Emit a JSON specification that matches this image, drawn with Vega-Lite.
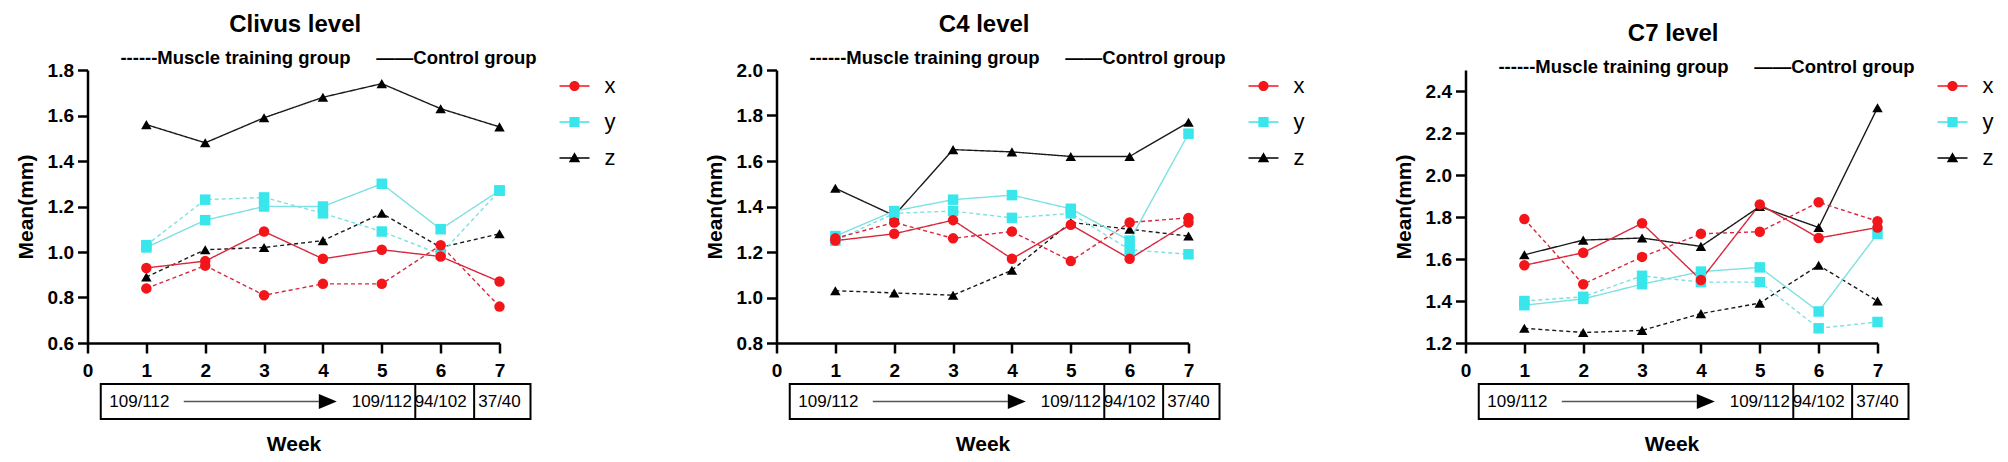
{
  "$schema": "https://vega.github.io/schema/vega-lite/v6.json",
  "background": "white",
  "padding": {"left": 14.5, "top": 12, "right": 0, "bottom": 0},
  "config": {
    "font": "Liberation Sans",
    "view": {"stroke": null},
    "axis": {
      "grid": false,
      "domainColor": "#000", "domainWidth": 2.5,
      "tickColor": "#000", "tickWidth": 2.5, "tickSize": 10,
      "labelColor": "#000", "labelFontWeight": "bold", "labelFontSize": 19, "labelFlush": false,
      "titleColor": "#000", "titleFontWeight": "bold", "titleFontSize": 21
    },
    "axisX": {"labelPadding": 8},
    "axisY": {"labelPadding": 4, "titlePadding": 11},
    "title": {
      "fontSize": 24, "fontWeight": "bold", "color": "#000",
      "subtitleFontSize": 18.5, "subtitleFontWeight": "bold", "subtitleColor": "#000",
      "subtitlePadding": 12, "offset": -6, "frame": "group", "anchor": "middle", "dx": 35
    },
    "legend": {
      "labelFontSize": 22, "labelColor": "#000", "symbolSize": 144, "symbolOpacity": 1,
      "labelOffset": 19, "rowPadding": 14, "offset": 56, "padding": 5, "symbolStrokeWidth": 0
    }
  },
  "datasets": {
    "means": [
      {"level": "clivus", "group": "training", "measure": "z", "week": 1, "mean": 0.89},
      {"level": "clivus", "group": "training", "measure": "z", "week": 2, "mean": 1.01},
      {"level": "clivus", "group": "training", "measure": "z", "week": 3, "mean": 1.02},
      {"level": "clivus", "group": "training", "measure": "z", "week": 4, "mean": 1.05},
      {"level": "clivus", "group": "training", "measure": "z", "week": 5, "mean": 1.17},
      {"level": "clivus", "group": "training", "measure": "z", "week": 6, "mean": 1.02},
      {"level": "clivus", "group": "training", "measure": "z", "week": 7, "mean": 1.08},
      {"level": "clivus", "group": "control", "measure": "z", "week": 1, "mean": 1.56},
      {"level": "clivus", "group": "control", "measure": "z", "week": 2, "mean": 1.48},
      {"level": "clivus", "group": "control", "measure": "z", "week": 3, "mean": 1.59},
      {"level": "clivus", "group": "control", "measure": "z", "week": 4, "mean": 1.68},
      {"level": "clivus", "group": "control", "measure": "z", "week": 5, "mean": 1.74},
      {"level": "clivus", "group": "control", "measure": "z", "week": 6, "mean": 1.63},
      {"level": "clivus", "group": "control", "measure": "z", "week": 7, "mean": 1.55},
      {"level": "clivus", "group": "training", "measure": "y", "week": 1, "mean": 1.03},
      {"level": "clivus", "group": "training", "measure": "y", "week": 2, "mean": 1.23},
      {"level": "clivus", "group": "training", "measure": "y", "week": 3, "mean": 1.24},
      {"level": "clivus", "group": "training", "measure": "y", "week": 4, "mean": 1.17},
      {"level": "clivus", "group": "training", "measure": "y", "week": 5, "mean": 1.09},
      {"level": "clivus", "group": "training", "measure": "y", "week": 6, "mean": 0.99},
      {"level": "clivus", "group": "training", "measure": "y", "week": 7, "mean": 1.27},
      {"level": "clivus", "group": "control", "measure": "y", "week": 1, "mean": 1.02},
      {"level": "clivus", "group": "control", "measure": "y", "week": 2, "mean": 1.14},
      {"level": "clivus", "group": "control", "measure": "y", "week": 3, "mean": 1.20},
      {"level": "clivus", "group": "control", "measure": "y", "week": 4, "mean": 1.20},
      {"level": "clivus", "group": "control", "measure": "y", "week": 5, "mean": 1.30},
      {"level": "clivus", "group": "control", "measure": "y", "week": 6, "mean": 1.10},
      {"level": "clivus", "group": "control", "measure": "y", "week": 7, "mean": 1.27},
      {"level": "clivus", "group": "training", "measure": "x", "week": 1, "mean": 0.84},
      {"level": "clivus", "group": "training", "measure": "x", "week": 2, "mean": 0.94},
      {"level": "clivus", "group": "training", "measure": "x", "week": 3, "mean": 0.81},
      {"level": "clivus", "group": "training", "measure": "x", "week": 4, "mean": 0.86},
      {"level": "clivus", "group": "training", "measure": "x", "week": 5, "mean": 0.86},
      {"level": "clivus", "group": "training", "measure": "x", "week": 6, "mean": 1.03},
      {"level": "clivus", "group": "training", "measure": "x", "week": 7, "mean": 0.76},
      {"level": "clivus", "group": "control", "measure": "x", "week": 1, "mean": 0.93},
      {"level": "clivus", "group": "control", "measure": "x", "week": 2, "mean": 0.96},
      {"level": "clivus", "group": "control", "measure": "x", "week": 3, "mean": 1.09},
      {"level": "clivus", "group": "control", "measure": "x", "week": 4, "mean": 0.97},
      {"level": "clivus", "group": "control", "measure": "x", "week": 5, "mean": 1.01},
      {"level": "clivus", "group": "control", "measure": "x", "week": 6, "mean": 0.98},
      {"level": "clivus", "group": "control", "measure": "x", "week": 7, "mean": 0.87},

      {"level": "c4", "group": "training", "measure": "z", "week": 1, "mean": 1.03},
      {"level": "c4", "group": "training", "measure": "z", "week": 2, "mean": 1.02},
      {"level": "c4", "group": "training", "measure": "z", "week": 3, "mean": 1.01},
      {"level": "c4", "group": "training", "measure": "z", "week": 4, "mean": 1.12},
      {"level": "c4", "group": "training", "measure": "z", "week": 5, "mean": 1.33},
      {"level": "c4", "group": "training", "measure": "z", "week": 6, "mean": 1.30},
      {"level": "c4", "group": "training", "measure": "z", "week": 7, "mean": 1.27},
      {"level": "c4", "group": "control", "measure": "z", "week": 1, "mean": 1.48},
      {"level": "c4", "group": "control", "measure": "z", "week": 2, "mean": 1.36},
      {"level": "c4", "group": "control", "measure": "z", "week": 3, "mean": 1.65},
      {"level": "c4", "group": "control", "measure": "z", "week": 4, "mean": 1.64},
      {"level": "c4", "group": "control", "measure": "z", "week": 5, "mean": 1.62},
      {"level": "c4", "group": "control", "measure": "z", "week": 6, "mean": 1.62},
      {"level": "c4", "group": "control", "measure": "z", "week": 7, "mean": 1.77},
      {"level": "c4", "group": "training", "measure": "y", "week": 1, "mean": 1.25},
      {"level": "c4", "group": "training", "measure": "y", "week": 2, "mean": 1.37},
      {"level": "c4", "group": "training", "measure": "y", "week": 3, "mean": 1.38},
      {"level": "c4", "group": "training", "measure": "y", "week": 4, "mean": 1.35},
      {"level": "c4", "group": "training", "measure": "y", "week": 5, "mean": 1.37},
      {"level": "c4", "group": "training", "measure": "y", "week": 6, "mean": 1.21},
      {"level": "c4", "group": "training", "measure": "y", "week": 7, "mean": 1.19},
      {"level": "c4", "group": "control", "measure": "y", "week": 1, "mean": 1.27},
      {"level": "c4", "group": "control", "measure": "y", "week": 2, "mean": 1.38},
      {"level": "c4", "group": "control", "measure": "y", "week": 3, "mean": 1.43},
      {"level": "c4", "group": "control", "measure": "y", "week": 4, "mean": 1.45},
      {"level": "c4", "group": "control", "measure": "y", "week": 5, "mean": 1.39},
      {"level": "c4", "group": "control", "measure": "y", "week": 6, "mean": 1.25},
      {"level": "c4", "group": "control", "measure": "y", "week": 7, "mean": 1.72},
      {"level": "c4", "group": "training", "measure": "x", "week": 1, "mean": 1.26},
      {"level": "c4", "group": "training", "measure": "x", "week": 2, "mean": 1.33},
      {"level": "c4", "group": "training", "measure": "x", "week": 3, "mean": 1.26},
      {"level": "c4", "group": "training", "measure": "x", "week": 4, "mean": 1.29},
      {"level": "c4", "group": "training", "measure": "x", "week": 5, "mean": 1.16},
      {"level": "c4", "group": "training", "measure": "x", "week": 6, "mean": 1.33},
      {"level": "c4", "group": "training", "measure": "x", "week": 7, "mean": 1.35},
      {"level": "c4", "group": "control", "measure": "x", "week": 1, "mean": 1.25},
      {"level": "c4", "group": "control", "measure": "x", "week": 2, "mean": 1.28},
      {"level": "c4", "group": "control", "measure": "x", "week": 3, "mean": 1.34},
      {"level": "c4", "group": "control", "measure": "x", "week": 4, "mean": 1.17},
      {"level": "c4", "group": "control", "measure": "x", "week": 5, "mean": 1.32},
      {"level": "c4", "group": "control", "measure": "x", "week": 6, "mean": 1.17},
      {"level": "c4", "group": "control", "measure": "x", "week": 7, "mean": 1.33},

      {"level": "c7", "group": "training", "measure": "z", "week": 1, "mean": 1.27},
      {"level": "c7", "group": "training", "measure": "z", "week": 2, "mean": 1.25},
      {"level": "c7", "group": "training", "measure": "z", "week": 3, "mean": 1.26},
      {"level": "c7", "group": "training", "measure": "z", "week": 4, "mean": 1.34},
      {"level": "c7", "group": "training", "measure": "z", "week": 5, "mean": 1.39},
      {"level": "c7", "group": "training", "measure": "z", "week": 6, "mean": 1.57},
      {"level": "c7", "group": "training", "measure": "z", "week": 7, "mean": 1.40},
      {"level": "c7", "group": "control", "measure": "z", "week": 1, "mean": 1.62},
      {"level": "c7", "group": "control", "measure": "z", "week": 2, "mean": 1.69},
      {"level": "c7", "group": "control", "measure": "z", "week": 3, "mean": 1.70},
      {"level": "c7", "group": "control", "measure": "z", "week": 4, "mean": 1.66},
      {"level": "c7", "group": "control", "measure": "z", "week": 5, "mean": 1.85},
      {"level": "c7", "group": "control", "measure": "z", "week": 6, "mean": 1.75},
      {"level": "c7", "group": "control", "measure": "z", "week": 7, "mean": 2.32},
      {"level": "c7", "group": "training", "measure": "y", "week": 1, "mean": 1.40},
      {"level": "c7", "group": "training", "measure": "y", "week": 2, "mean": 1.42},
      {"level": "c7", "group": "training", "measure": "y", "week": 3, "mean": 1.52},
      {"level": "c7", "group": "training", "measure": "y", "week": 4, "mean": 1.49},
      {"level": "c7", "group": "training", "measure": "y", "week": 5, "mean": 1.49},
      {"level": "c7", "group": "training", "measure": "y", "week": 6, "mean": 1.27},
      {"level": "c7", "group": "training", "measure": "y", "week": 7, "mean": 1.30},
      {"level": "c7", "group": "control", "measure": "y", "week": 1, "mean": 1.38},
      {"level": "c7", "group": "control", "measure": "y", "week": 2, "mean": 1.41},
      {"level": "c7", "group": "control", "measure": "y", "week": 3, "mean": 1.48},
      {"level": "c7", "group": "control", "measure": "y", "week": 4, "mean": 1.54},
      {"level": "c7", "group": "control", "measure": "y", "week": 5, "mean": 1.56},
      {"level": "c7", "group": "control", "measure": "y", "week": 6, "mean": 1.35},
      {"level": "c7", "group": "control", "measure": "y", "week": 7, "mean": 1.72},
      {"level": "c7", "group": "training", "measure": "x", "week": 1, "mean": 1.79},
      {"level": "c7", "group": "training", "measure": "x", "week": 2, "mean": 1.48},
      {"level": "c7", "group": "training", "measure": "x", "week": 3, "mean": 1.61},
      {"level": "c7", "group": "training", "measure": "x", "week": 4, "mean": 1.72},
      {"level": "c7", "group": "training", "measure": "x", "week": 5, "mean": 1.73},
      {"level": "c7", "group": "training", "measure": "x", "week": 6, "mean": 1.87},
      {"level": "c7", "group": "training", "measure": "x", "week": 7, "mean": 1.78},
      {"level": "c7", "group": "control", "measure": "x", "week": 1, "mean": 1.57},
      {"level": "c7", "group": "control", "measure": "x", "week": 2, "mean": 1.63},
      {"level": "c7", "group": "control", "measure": "x", "week": 3, "mean": 1.77},
      {"level": "c7", "group": "control", "measure": "x", "week": 4, "mean": 1.50},
      {"level": "c7", "group": "control", "measure": "x", "week": 5, "mean": 1.86},
      {"level": "c7", "group": "control", "measure": "x", "week": 6, "mean": 1.70},
      {"level": "c7", "group": "control", "measure": "x", "week": 7, "mean": 1.75}
    ],
    "counts": [
      {"start": 1, "end": 5, "n": "109/112"},
      {"start": 6, "end": 6, "n": "94/102"},
      {"start": 7, "end": 7, "n": "37/40"}
    ]
  },
  "hconcat": [
    {
      "vconcat": [
        {
          "width": 412, "height": 273,
          "title": {"text": "Clivus level\u00a0\u00a0\u00a0\u00a0\u00a0\u00a0\u00a0\u00a0\u00a0\u00a0\u200b", "subtitle": "------Muscle training group\u00a0\u00a0\u00a0\u00a0\u00a0——Control group"},
          "data": {"name": "means"},
          "transform": [{"filter": "datum.level === 'clivus'"}],
          "encoding": {
            "x": {"field": "week", "type": "quantitative", "scale": {"domain": [0, 7], "nice": false, "zero": false}, "axis": {"values": [0, 1, 2, 3, 4, 5, 6, 7], "format": "d", "title": null}},
            "y": {"field": "mean", "type": "quantitative", "scale": {"domain": [0.6, 1.8], "nice": false, "zero": false}, "axis": {"values": [0.6, 0.8, 1.0, 1.2, 1.4, 1.6, 1.8], "format": ".1f", "title": "Mean(mm)"}},
            "fill": {"field": "measure", "type": "nominal", "scale": {"domain": ["x", "y", "z"], "range": ["#f2161b", "#38e6ec", "#000000"]}, "legend": {"title": null}}
          },
          "layer": [
            {
              "mark": {"type": "line", "strokeWidth": 1.4},
              "encoding": {
                "fill": null,
                "stroke": {"field": "measure", "type": "nominal", "scale": {"domain": ["z", "y", "x"], "range": ["#1a1a1a", "#7fe0e2", "#d8283e"]}, "legend": null},
                "strokeDash": {"field": "group", "type": "nominal", "scale": {"domain": ["training", "control"], "range": [[4, 3], [1, 0]]}, "legend": null}
              }
            },
            {
              "mark": {"type": "point", "filled": true, "size": 110, "opacity": 0},
              "encoding": {
                "shape": {"field": "measure", "type": "nominal", "scale": {"domain": ["x", "y", "z"], "range": ["M-2.5,-0.12H2.5V0.12H-2.5Z M0.85,0A0.85,0.85,0,1,1,-0.85,0A0.85,0.85,0,1,1,0.85,0Z", "M-2.5,-0.12H2.5V0.12H-2.5Z M-0.85,-0.85H0.85V0.85H-0.85Z", "M-2.5,-0.12H2.5V0.12H-2.5Z M0,-0.95L0.95,0.7H-0.95Z"]}, "legend": {"title": null}}
              }
            },
            {"transform": [{"filter": "datum.measure === 'z'"}], "mark": {"type": "point", "shape": "triangle-up", "filled": true, "size": 110, "opacity": 1, "strokeWidth": 0}},
            {"transform": [{"filter": "datum.measure === 'y'"}], "mark": {"type": "point", "shape": "square", "filled": true, "size": 110, "opacity": 1, "strokeWidth": 0}},
            {"transform": [{"filter": "datum.measure === 'x'"}], "mark": {"type": "point", "shape": "circle", "filled": true, "size": 110, "opacity": 1, "strokeWidth": 0}}
          ]
        },
        {
          "width": 412, "height": 35,
          "data": {"name": "counts"},
          "layer": [
            {
              "transform": [{"aggregate": [{"op": "min", "field": "start", "as": "first"}, {"op": "max", "field": "end", "as": "last"}]}],
              "mark": {"type": "rect", "filled": false, "stroke": "#000", "strokeWidth": 2, "xOffset": -45.6, "x2Offset": 31},
              "encoding": {
                "x": {"field": "first", "type": "quantitative", "scale": {"domain": [0, 7], "nice": false, "zero": false}, "axis": {"title": "Week", "domain": false, "ticks": false, "labels": false, "titlePadding": 14}},
                "x2": {"field": "last"}
              }
            },
            {
              "transform": [{"filter": "datum.end < 7"}],
              "mark": {"type": "rule", "stroke": "#000", "strokeWidth": 2, "xOffset": 33.5},
              "encoding": {"x": {"field": "end", "type": "quantitative", "scale": {"domain": [0, 7], "nice": false, "zero": false}, "axis": {"title": "Week", "domain": false, "ticks": false, "labels": false, "titlePadding": 14}}}
            },
            {
              "mark": {"type": "text", "fontSize": 17, "color": "#000"},
              "encoding": {"x": {"field": "end", "type": "quantitative", "scale": {"domain": [0, 7], "nice": false, "zero": false}, "axis": {"title": "Week", "domain": false, "ticks": false, "labels": false, "titlePadding": 14}}, "text": {"field": "n"}}
            },
            {
              "transform": [{"filter": "datum.start < datum.end"}],
              "mark": {"type": "text", "fontSize": 17, "color": "#000", "dx": -7},
              "encoding": {"x": {"field": "start", "type": "quantitative", "scale": {"domain": [0, 7], "nice": false, "zero": false}, "axis": {"title": "Week", "domain": false, "ticks": false, "labels": false, "titlePadding": 14}}, "text": {"field": "n"}}
            },
            {
              "transform": [{"filter": "datum.start < datum.end"}],
              "mark": {"type": "rule", "stroke": "#555", "strokeWidth": 1.5, "xOffset": 37.4, "x2Offset": -63},
              "encoding": {"x": {"field": "start", "type": "quantitative", "scale": {"domain": [0, 7], "nice": false, "zero": false}, "axis": {"title": "Week", "domain": false, "ticks": false, "labels": false, "titlePadding": 14}}, "x2": {"field": "end"}}
            },
            {
              "transform": [{"filter": "datum.start < datum.end"}],
              "mark": {"type": "point", "shape": "M-1.2,-1L1.2,0L-1.2,1Z", "filled": true, "color": "#000", "opacity": 1, "size": 225, "xOffset": -54},
              "encoding": {"x": {"field": "end", "type": "quantitative", "scale": {"domain": [0, 7], "nice": false, "zero": false}, "axis": {"title": "Week", "domain": false, "ticks": false, "labels": false, "titlePadding": 14}}}
            }
          ]
        }
      ],
      "spacing": 3,
      "resolve": {"scale": {"fill": "independent", "stroke": "independent", "shape": "independent", "strokeDash": "independent"}}
    },
    {
      "vconcat": [
        {
          "width": 412, "height": 273,
          "title": {"text": "C4 level\u00a0\u00a0\u00a0\u00a0\u00a0\u00a0\u00a0\u00a0\u00a0\u00a0\u200b", "subtitle": "------Muscle training group\u00a0\u00a0\u00a0\u00a0\u00a0——Control group"},
          "data": {"name": "means"},
          "transform": [{"filter": "datum.level === 'c4'"}],
          "encoding": {
            "x": {"field": "week", "type": "quantitative", "scale": {"domain": [0, 7], "nice": false, "zero": false}, "axis": {"values": [0, 1, 2, 3, 4, 5, 6, 7], "format": "d", "title": null}},
            "y": {"field": "mean", "type": "quantitative", "scale": {"domain": [0.8, 2.0], "nice": false, "zero": false}, "axis": {"values": [0.8, 1.0, 1.2, 1.4, 1.6, 1.8, 2.0], "format": ".1f", "title": "Mean(mm)"}},
            "fill": {"field": "measure", "type": "nominal", "scale": {"domain": ["x", "y", "z"], "range": ["#f2161b", "#38e6ec", "#000000"]}, "legend": {"title": null}}
          },
          "layer": [
            {
              "mark": {"type": "line", "strokeWidth": 1.4},
              "encoding": {
                "fill": null,
                "stroke": {"field": "measure", "type": "nominal", "scale": {"domain": ["z", "y", "x"], "range": ["#1a1a1a", "#7fe0e2", "#d8283e"]}, "legend": null},
                "strokeDash": {"field": "group", "type": "nominal", "scale": {"domain": ["training", "control"], "range": [[4, 3], [1, 0]]}, "legend": null}
              }
            },
            {
              "mark": {"type": "point", "filled": true, "size": 110, "opacity": 0},
              "encoding": {
                "shape": {"field": "measure", "type": "nominal", "scale": {"domain": ["x", "y", "z"], "range": ["M-2.5,-0.12H2.5V0.12H-2.5Z M0.85,0A0.85,0.85,0,1,1,-0.85,0A0.85,0.85,0,1,1,0.85,0Z", "M-2.5,-0.12H2.5V0.12H-2.5Z M-0.85,-0.85H0.85V0.85H-0.85Z", "M-2.5,-0.12H2.5V0.12H-2.5Z M0,-0.95L0.95,0.7H-0.95Z"]}, "legend": {"title": null}}
              }
            },
            {"transform": [{"filter": "datum.measure === 'z'"}], "mark": {"type": "point", "shape": "triangle-up", "filled": true, "size": 110, "opacity": 1, "strokeWidth": 0}},
            {"transform": [{"filter": "datum.measure === 'y'"}], "mark": {"type": "point", "shape": "square", "filled": true, "size": 110, "opacity": 1, "strokeWidth": 0}},
            {"transform": [{"filter": "datum.measure === 'x'"}], "mark": {"type": "point", "shape": "circle", "filled": true, "size": 110, "opacity": 1, "strokeWidth": 0}}
          ]
        },
        {
          "width": 412, "height": 35,
          "data": {"name": "counts"},
          "layer": [
            {
              "transform": [{"aggregate": [{"op": "min", "field": "start", "as": "first"}, {"op": "max", "field": "end", "as": "last"}]}],
              "mark": {"type": "rect", "filled": false, "stroke": "#000", "strokeWidth": 2, "xOffset": -45.6, "x2Offset": 31},
              "encoding": {
                "x": {"field": "first", "type": "quantitative", "scale": {"domain": [0, 7], "nice": false, "zero": false}, "axis": {"title": "Week", "domain": false, "ticks": false, "labels": false, "titlePadding": 14}},
                "x2": {"field": "last"}
              }
            },
            {
              "transform": [{"filter": "datum.end < 7"}],
              "mark": {"type": "rule", "stroke": "#000", "strokeWidth": 2, "xOffset": 33.5},
              "encoding": {"x": {"field": "end", "type": "quantitative", "scale": {"domain": [0, 7], "nice": false, "zero": false}, "axis": {"title": "Week", "domain": false, "ticks": false, "labels": false, "titlePadding": 14}}}
            },
            {
              "mark": {"type": "text", "fontSize": 17, "color": "#000"},
              "encoding": {"x": {"field": "end", "type": "quantitative", "scale": {"domain": [0, 7], "nice": false, "zero": false}, "axis": {"title": "Week", "domain": false, "ticks": false, "labels": false, "titlePadding": 14}}, "text": {"field": "n"}}
            },
            {
              "transform": [{"filter": "datum.start < datum.end"}],
              "mark": {"type": "text", "fontSize": 17, "color": "#000", "dx": -7},
              "encoding": {"x": {"field": "start", "type": "quantitative", "scale": {"domain": [0, 7], "nice": false, "zero": false}, "axis": {"title": "Week", "domain": false, "ticks": false, "labels": false, "titlePadding": 14}}, "text": {"field": "n"}}
            },
            {
              "transform": [{"filter": "datum.start < datum.end"}],
              "mark": {"type": "rule", "stroke": "#555", "strokeWidth": 1.5, "xOffset": 37.4, "x2Offset": -63},
              "encoding": {"x": {"field": "start", "type": "quantitative", "scale": {"domain": [0, 7], "nice": false, "zero": false}, "axis": {"title": "Week", "domain": false, "ticks": false, "labels": false, "titlePadding": 14}}, "x2": {"field": "end"}}
            },
            {
              "transform": [{"filter": "datum.start < datum.end"}],
              "mark": {"type": "point", "shape": "M-1.2,-1L1.2,0L-1.2,1Z", "filled": true, "color": "#000", "opacity": 1, "size": 225, "xOffset": -54},
              "encoding": {"x": {"field": "end", "type": "quantitative", "scale": {"domain": [0, 7], "nice": false, "zero": false}, "axis": {"title": "Week", "domain": false, "ticks": false, "labels": false, "titlePadding": 14}}}
            }
          ]
        }
      ],
      "spacing": 3,
      "resolve": {"scale": {"fill": "independent", "stroke": "independent", "shape": "independent", "strokeDash": "independent"}}
    },
    {
      "vconcat": [
        {
          "width": 412, "height": 273,
          "title": {"text": "C7 level\u00a0\u00a0\u00a0\u00a0\u00a0\u00a0\u00a0\u00a0\u00a0\u00a0\u200b", "subtitle": "------Muscle training group\u00a0\u00a0\u00a0\u00a0\u00a0——Control group"},
          "data": {"name": "means"},
          "transform": [{"filter": "datum.level === 'c7'"}],
          "encoding": {
            "x": {"field": "week", "type": "quantitative", "scale": {"domain": [0, 7], "nice": false, "zero": false}, "axis": {"values": [0, 1, 2, 3, 4, 5, 6, 7], "format": "d", "title": null}},
            "y": {"field": "mean", "type": "quantitative", "scale": {"domain": [1.2, 2.5], "nice": false, "zero": false}, "axis": {"values": [1.2, 1.4, 1.6, 1.8, 2.0, 2.2, 2.4], "format": ".1f", "title": "Mean(mm)"}},
            "fill": {"field": "measure", "type": "nominal", "scale": {"domain": ["x", "y", "z"], "range": ["#f2161b", "#38e6ec", "#000000"]}, "legend": {"title": null}}
          },
          "layer": [
            {
              "mark": {"type": "line", "strokeWidth": 1.4},
              "encoding": {
                "fill": null,
                "stroke": {"field": "measure", "type": "nominal", "scale": {"domain": ["z", "y", "x"], "range": ["#1a1a1a", "#7fe0e2", "#d8283e"]}, "legend": null},
                "strokeDash": {"field": "group", "type": "nominal", "scale": {"domain": ["training", "control"], "range": [[4, 3], [1, 0]]}, "legend": null}
              }
            },
            {
              "mark": {"type": "point", "filled": true, "size": 110, "opacity": 0},
              "encoding": {
                "shape": {"field": "measure", "type": "nominal", "scale": {"domain": ["x", "y", "z"], "range": ["M-2.5,-0.12H2.5V0.12H-2.5Z M0.85,0A0.85,0.85,0,1,1,-0.85,0A0.85,0.85,0,1,1,0.85,0Z", "M-2.5,-0.12H2.5V0.12H-2.5Z M-0.85,-0.85H0.85V0.85H-0.85Z", "M-2.5,-0.12H2.5V0.12H-2.5Z M0,-0.95L0.95,0.7H-0.95Z"]}, "legend": {"title": null}}
              }
            },
            {"transform": [{"filter": "datum.measure === 'z'"}], "mark": {"type": "point", "shape": "triangle-up", "filled": true, "size": 110, "opacity": 1, "strokeWidth": 0}},
            {"transform": [{"filter": "datum.measure === 'y'"}], "mark": {"type": "point", "shape": "square", "filled": true, "size": 110, "opacity": 1, "strokeWidth": 0}},
            {"transform": [{"filter": "datum.measure === 'x'"}], "mark": {"type": "point", "shape": "circle", "filled": true, "size": 110, "opacity": 1, "strokeWidth": 0}}
          ]
        },
        {
          "width": 412, "height": 35,
          "data": {"name": "counts"},
          "layer": [
            {
              "transform": [{"aggregate": [{"op": "min", "field": "start", "as": "first"}, {"op": "max", "field": "end", "as": "last"}]}],
              "mark": {"type": "rect", "filled": false, "stroke": "#000", "strokeWidth": 2, "xOffset": -45.6, "x2Offset": 31},
              "encoding": {
                "x": {"field": "first", "type": "quantitative", "scale": {"domain": [0, 7], "nice": false, "zero": false}, "axis": {"title": "Week", "domain": false, "ticks": false, "labels": false, "titlePadding": 14}},
                "x2": {"field": "last"}
              }
            },
            {
              "transform": [{"filter": "datum.end < 7"}],
              "mark": {"type": "rule", "stroke": "#000", "strokeWidth": 2, "xOffset": 33.5},
              "encoding": {"x": {"field": "end", "type": "quantitative", "scale": {"domain": [0, 7], "nice": false, "zero": false}, "axis": {"title": "Week", "domain": false, "ticks": false, "labels": false, "titlePadding": 14}}}
            },
            {
              "mark": {"type": "text", "fontSize": 17, "color": "#000"},
              "encoding": {"x": {"field": "end", "type": "quantitative", "scale": {"domain": [0, 7], "nice": false, "zero": false}, "axis": {"title": "Week", "domain": false, "ticks": false, "labels": false, "titlePadding": 14}}, "text": {"field": "n"}}
            },
            {
              "transform": [{"filter": "datum.start < datum.end"}],
              "mark": {"type": "text", "fontSize": 17, "color": "#000", "dx": -7},
              "encoding": {"x": {"field": "start", "type": "quantitative", "scale": {"domain": [0, 7], "nice": false, "zero": false}, "axis": {"title": "Week", "domain": false, "ticks": false, "labels": false, "titlePadding": 14}}, "text": {"field": "n"}}
            },
            {
              "transform": [{"filter": "datum.start < datum.end"}],
              "mark": {"type": "rule", "stroke": "#555", "strokeWidth": 1.5, "xOffset": 37.4, "x2Offset": -63},
              "encoding": {"x": {"field": "start", "type": "quantitative", "scale": {"domain": [0, 7], "nice": false, "zero": false}, "axis": {"title": "Week", "domain": false, "ticks": false, "labels": false, "titlePadding": 14}}, "x2": {"field": "end"}}
            },
            {
              "transform": [{"filter": "datum.start < datum.end"}],
              "mark": {"type": "point", "shape": "M-1.2,-1L1.2,0L-1.2,1Z", "filled": true, "color": "#000", "opacity": 1, "size": 225, "xOffset": -54},
              "encoding": {"x": {"field": "end", "type": "quantitative", "scale": {"domain": [0, 7], "nice": false, "zero": false}, "axis": {"title": "Week", "domain": false, "ticks": false, "labels": false, "titlePadding": 14}}}
            }
          ]
        }
      ],
      "spacing": 3,
      "resolve": {"scale": {"fill": "independent", "stroke": "independent", "shape": "independent", "strokeDash": "independent"}}
    }
  ],
  "spacing": 83,
  "resolve": {"scale": {"fill": "independent", "stroke": "independent", "shape": "independent", "strokeDash": "independent"}}
}
